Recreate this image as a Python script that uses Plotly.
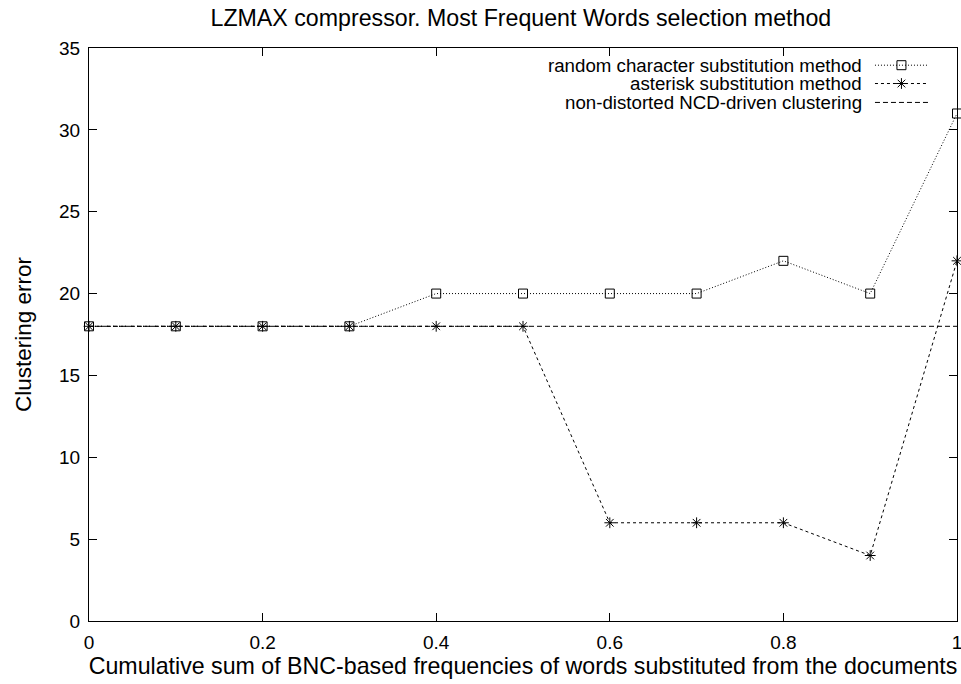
import plotly.graph_objects as go

x_vals = [0, 0.1, 0.2, 0.3, 0.4, 0.5, 0.6, 0.7, 0.8, 0.9, 1.0]
random_char = [18, 18, 18, 18, 20, 20, 20, 20, 22, 20, 31]
asterisk = [18, 18, 18, 18, 18, 18, 6, 6, 6, 4, 22]
baseline = [18] * len(x_vals)
x_ticks = [0, 0.2, 0.4, 0.6, 0.8, 1]
x_tick_text = ["0", "0.2", "0.4", "0.6", "0.8", "1"]
y_ticks = [0, 5, 10, 15, 20, 25, 30, 35]
names = ["random character substitution method", "asterisk substitution method",
         "non-distorted NCD-driven clustering"]

FONT = "Liberation Sans, Arial, Helvetica, sans-serif"
fig = go.Figure()

fig.add_trace(go.Scatter(x=x_vals, y=baseline, mode="lines", name=names[2],
                         line=dict(color="black", width=1, dash="5px,3px"),
                         showlegend=False, cliponaxis=False))
fig.add_trace(go.Scatter(x=x_vals, y=random_char, mode="lines+markers", name=names[0],
                         line=dict(color="black", width=1, dash="1px,2px"),
                         marker=dict(symbol="square-open", size=9, color="black", line=dict(width=1)),
                         showlegend=False, cliponaxis=False))
fig.add_trace(go.Scatter(x=x_vals, y=asterisk, mode="lines+markers", name=names[1],
                         line=dict(color="black", width=1, dash="3px,3px"),
                         marker=dict(symbol="asterisk-open", size=9, color="black", line=dict(width=1, color="black")),
                         showlegend=False, cliponaxis=False))

# custom gnuplot-style legend (text on the left, sample on the right)
leg_y = [0.970, 0.938, 0.905]
styles = [("1px,2px", "square-open"), ("3px,3px", "asterisk-open"), ("5px,3px", None)]
for i, (dash, sym) in enumerate(styles):
    fig.add_trace(go.Scatter(x=[0.9055, 0.9666], y=[leg_y[i], leg_y[i]], mode="lines",
                             xaxis="x2", yaxis="y2", showlegend=False, hoverinfo="skip",
                             line=dict(color="black", width=1, dash=dash)))
    if sym:
        fig.add_trace(go.Scatter(x=[0.936], y=[leg_y[i]], mode="markers",
                                 xaxis="x2", yaxis="y2", showlegend=False, hoverinfo="skip",
                                 marker=dict(symbol=sym, size=9, color="black", line=dict(width=1, color="black"))))
    fig.add_annotation(x=0.893, y=leg_y[i], xref="x2", yref="y2", text=names[i],
                       showarrow=False, xanchor="right", yanchor="middle",
                       font=dict(family=FONT, size=18.7, color="black"))

axis_common = dict(showline=True, linecolor="black", linewidth=1, mirror="ticks",
                   ticks="inside", ticklen=8, tickcolor="black", showgrid=False,
                   zeroline=False, automargin=False, ticklabeloverflow="allow",
                   tickfont=dict(family=FONT, size=19, color="black"))
fig.update_layout(
    width=961, height=684,
    margin=dict(l=89, r=4, t=48, b=63),
    paper_bgcolor="white", plot_bgcolor="white",
    title=dict(text="LZMAX compressor. Most Frequent Words selection method",
               x=0.542, xanchor="center", y=0.974, yanchor="middle",
               font=dict(family=FONT, size=23.2, color="black")),
    xaxis=dict(range=[0, 1], tickvals=x_ticks, ticktext=x_tick_text,
               ticklabelstandoff=4,
               title=dict(text="Cumulative sum of BNC-based frequencies of words substituted from the documents",
                          font=dict(family=FONT, size=23.2, color="black"), standoff=2),
               **axis_common),
    yaxis=dict(range=[0, 35], tickvals=y_ticks, ticklabelstandoff=4,
               title=dict(text="Clustering error", font=dict(family=FONT, size=22.5, color="black"), standoff=21),
               **axis_common),
    xaxis2=dict(range=[0, 1], overlaying="x", visible=False, fixedrange=True),
    yaxis2=dict(range=[0, 1], overlaying="y", visible=False, fixedrange=True),
    font=dict(family=FONT, color="black"),
)

# remove the default 8px page margin so the figure fills the 961x684 window exactly
fig.write_html("out.html", config={"displayModeBar": False},
               post_script="document.body.style.margin='0';document.body.style.overflow='hidden';")
